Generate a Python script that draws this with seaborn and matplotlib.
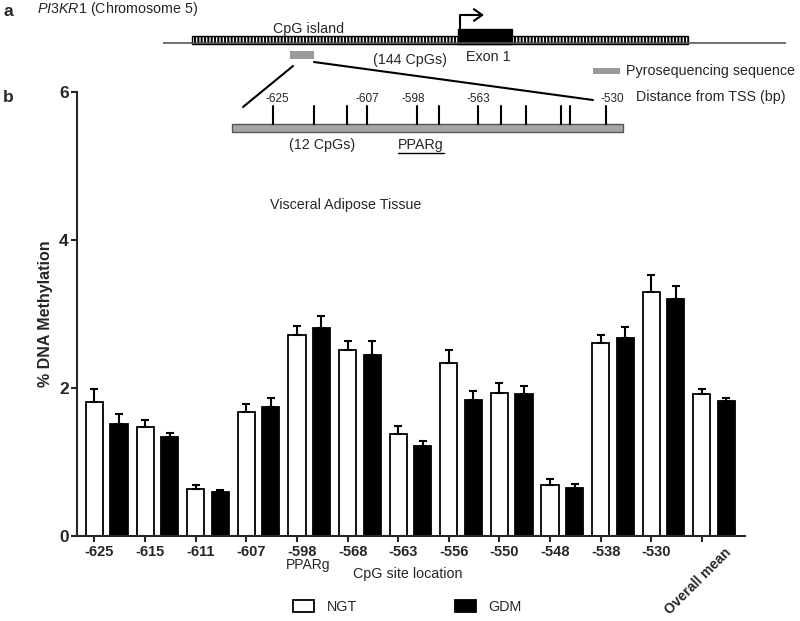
import numpy as np
import pandas as pd
import matplotlib
matplotlib.use("Agg")
import matplotlib.pyplot as plt
import seaborn as sns
from matplotlib.patches import Rectangle, Patch

# ---------------- data ----------------
sites = ["-625", "-615", "-611", "-607", "-598", "-568", "-563",
         "-556", "-550", "-548", "-538", "-530", "Overall mean"]
groups = ["NGT", "GDM"]
ngt_mean = [1.81, 1.47, 0.63, 1.67, 2.72, 2.51, 1.37, 2.33, 1.93, 0.69, 2.60, 3.29, 1.91]
ngt_sem = [0.18, 0.09, 0.05, 0.11, 0.11, 0.12, 0.11, 0.18, 0.13, 0.07, 0.11, 0.23, 0.07]
gdm_mean = [1.51, 1.34, 0.59, 1.74, 2.81, 2.44, 1.21, 1.84, 1.92, 0.65, 2.68, 3.20, 1.82]
gdm_sem = [0.13, 0.05, 0.03, 0.12, 0.16, 0.19, 0.07, 0.12, 0.11, 0.05, 0.14, 0.18, 0.04]
yticks = [0, 2, 4, 6]
schematic_labels = ["-625", "-607", "-598", "-563", "-530"]

# ---------------- style ----------------
sns.set_style("ticks")
plt.rcParams["font.family"] = ["Liberation Sans", "DejaVu Sans"]
plt.rcParams["mathtext.fontset"] = "custom"
plt.rcParams["mathtext.it"] = "Liberation Sans:italic"
plt.rcParams["mathtext.rm"] = "Liberation Sans"
plt.rcParams["hatch.linewidth"] = 1.5

df = pd.DataFrame({
    "site": sites * 2,
    "group": ["NGT"] * len(sites) + ["GDM"] * len(sites),
    "value": ngt_mean + gdm_mean,
})

W, H = 800, 621
fig = plt.figure(figsize=(8, 6.21), dpi=100)
fig.patch.set_facecolor("white")
ax = fig.add_axes([77 / W, 1 - 535.7 / H, (745 - 77) / W, (535.7 - 92) / H])

sns.barplot(data=df, x="site", y="value", hue="group", order=sites,
            hue_order=groups, palette={"NGT": "white", "GDM": "black"},
            edgecolor="black", linewidth=1.3, width=0.97, gap=0.3,
            dodge=True, legend=False, errorbar=None, ax=ax)

ngt_x = []
for i, (cont, errs) in enumerate(zip(ax.containers, [ngt_sem, gdm_sem])):
    xs = [p.get_x() + p.get_width() / 2 for p in cont]
    ys = [p.get_height() for p in cont]
    if i == 0:
        ngt_x = xs
    ax.errorbar(xs, ys, yerr=[np.zeros(len(errs)), errs], fmt="none",
                ecolor="black", elinewidth=1.5, capsize=2.6, capthick=1.5,
                zorder=3)

ax.set_xlim(-0.588, 12.61)
ax.set_ylim(0, 6)
sns.despine(ax=ax)
for s in ["left", "bottom"]:
    ax.spines[s].set_linewidth(1.5)

ax.set_yticks(yticks)
ax.set_yticklabels([str(v) for v in yticks], fontweight="bold", fontsize=12.5)
ax.tick_params(axis="y", length=4, width=1.5, pad=2)

label_pos = [x + 0.1 for x in ngt_x[:-1]] + [ngt_x[-1] + 0.43]
ax.set_xticks(label_pos)
ax.set_xticklabels(sites, fontweight="bold", fontsize=10.5)
ax.set_xticks(ngt_x, minor=True)
ax.tick_params(axis="x", which="major", length=0, pad=7)
ax.tick_params(axis="x", which="minor", length=4, width=1.5)
last = ax.get_xticklabels()[-1]
last.set_rotation(45)
last.set_ha("right")
last.set_rotation_mode("anchor")
last.set_fontsize(10)

ax.set_xlabel("")
ax.set_ylabel("% DNA Methylation", fontweight="bold", fontsize=11.5, labelpad=4)

handles = [Patch(facecolor="white", edgecolor="black", linewidth=1.3),
           Patch(facecolor="black", edgecolor="black", linewidth=1.3)]
fig.legend(handles, groups, loc="center", bbox_to_anchor=(407.5 / W, 1 - 607 / H),
           ncol=2, frameon=False, handlelength=1.47, handleheight=0.9,
           handletextpad=0.84, columnspacing=6.9, fontsize=10.3, borderpad=0)

# ---------------- schematic overlay (pixel coordinates) ----------------
ov = fig.add_axes([0, 0, 1, 1], zorder=5)
ov.set_xlim(0, W)
ov.set_ylim(H, 0)
ov.axis("off")
fs = 10.3

ov.text(3, 12, "a", fontweight="bold", fontsize=12.5, va="center", ha="left")
ov.text(3, 98, "b", fontweight="bold", fontsize=12.5, va="center", ha="left")
ov.text(37, 9, r"$\it{PI3KR1}$ (Chromosome 5)", fontsize=fs, va="center", ha="left")

ov.plot([163, 786], [43, 43], color="#555555", lw=1.2, solid_capstyle="butt")
ov.add_patch(Rectangle((192, 36), 496, 8, facecolor="white", edgecolor="black",
                       hatch="|||||", lw=1.0))
ov.add_patch(Rectangle((458, 29), 54, 15, facecolor="black", edgecolor="black", lw=1))
ov.plot([460, 460, 474], [29, 15, 15], color="black", lw=1.5)
ov.annotate("", xy=(484, 15), xytext=(470, 15),
            arrowprops=dict(arrowstyle="->,head_length=0.5,head_width=0.35",
                            lw=1.5, color="black", shrinkA=0, shrinkB=0,
                            mutation_scale=12))

ov.text(273, 33, "CpG island", fontsize=fs, va="baseline", ha="left")
ov.text(410, 60, "(144 CpGs)", fontsize=fs, va="center", ha="center")
ov.text(488, 57, "Exon 1", fontsize=fs, va="center", ha="center")

ov.add_patch(Rectangle((290, 51), 24, 8, facecolor="#9a9a9a", edgecolor="none"))
ov.plot([293, 243], [66, 107], color="black", lw=1.5)
ov.plot([314, 593], [62, 100], color="black", lw=1.5)

ov.add_patch(Rectangle((593, 68), 27, 6, facecolor="#9a9a9a", edgecolor="none"))
ov.text(626, 71, "Pyrosequencing sequence", fontsize=fs, va="center", ha="left")
ov.text(636, 97, "Distance from TSS (bp)", fontsize=fs, va="center", ha="left")

ov.add_patch(Rectangle((232, 124), 391, 8, facecolor="#a6a6a6", edgecolor="#555555", lw=1))
cpg_px = [273, 314, 347, 367, 417, 439, 478, 501, 526, 561, 570, 606]
for x in cpg_px:
    ov.plot([x, x], [106, 124], color="black", lw=1.5)
label_px = [277, 367, 413, 478, 612]
for lbl, x in zip(schematic_labels, label_px):
    ov.text(x, 99, lbl, fontsize=8.5, ha="center", va="center")

ov.text(322, 145, "(12 CpGs)", fontsize=fs, ha="center", va="center")
ov.text(421, 145, "PPARg", fontsize=fs, ha="center", va="center")
ov.plot([398, 444], [153, 153], color="black", lw=1)

ov.text(346, 205, "Visceral Adipose Tissue", fontsize=fs, ha="center", va="center")
ov.text(308, 565, "PPARg", fontsize=10, ha="center", va="center")
ov.text(408, 574, "CpG site location", fontsize=fs, ha="center", va="center")

fig.savefig("out.png", dpi=100, facecolor="white")
